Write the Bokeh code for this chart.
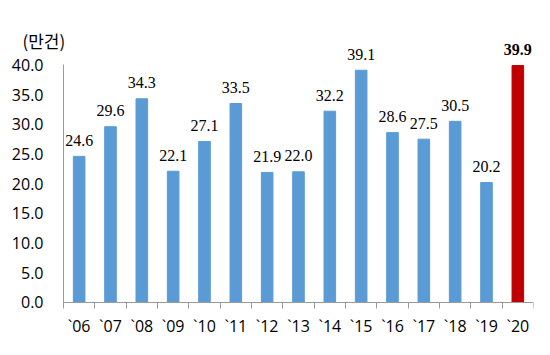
import numpy as np
from bokeh.plotting import figure
from bokeh.models import (ColumnDataSource, Range1d, FixedTicker, LinearAxis,
                          NumeralTickFormatter, Label)
from bokeh.embed import file_html
from bokeh.resources import INLINE

years = ["`06", "`07", "`08", "`09", "`10", "`11", "`12", "`13", "`14",
         "`15", "`16", "`17", "`18", "`19", "`20"]
values = [24.6, 29.6, 34.3, 22.1, 27.1, 33.5, 21.9, 22.0, 32.2,
          39.1, 28.6, 27.5, 30.5, 20.2, 39.9]
y_ticks = [0, 5, 10, 15, 20, 25, 30, 35, 40]
unit_label = "(만건)"

FONT = "Open Sans"
KFONT = "Noto Sans CJK KR"
BLUE = "#5B9BD5"
RED = "#C00000"
AXIS = "#9A9A9A"

n = len(years)
xs = np.arange(n) + 0.5
colors = [BLUE] * (n - 1) + [RED]
styles = ["normal"] * (n - 1) + ["bold"]
texts = [f"{v:.1f}" for v in values]

src = ColumnDataSource(dict(x=xs, top=values, color=colors, style=styles, label=texts))

# frame spans 10..533 px horizontally and 29..345 px vertically;
# both axes are pinned at 0 so their labels sit inside the frame
x_start = -1.691
p = figure(width=550, height=355, output_backend="svg", toolbar_location=None,
           x_range=Range1d(x_start, n), y_range=Range1d(-7.24, 45.96),
           x_axis_type=None, y_axis_type=None,
           min_border_left=10, min_border_right=17,
           min_border_top=29, min_border_bottom=10)
p.outline_line_color = None
p.background_fill_color = "white"
p.border_fill_color = "white"
p.xgrid.visible = False
p.ygrid.visible = False

p.vbar(x="x", top="top", width=0.37, bottom=0, color="color", source=src)

p.text(x="x", y="top", text="label", source=src, text_align="center",
       text_baseline="middle", y_offset=-16, text_font=FONT,
       text_font_size="16px", text_font_style="style", text_color="black")

xaxis = LinearAxis(ticker=FixedTicker(ticks=list(xs), minor_ticks=list(range(n + 1))),
                   bounds=(0, n), fixed_location=0)
xaxis.major_label_overrides = {float(x): y for x, y in zip(xs, years)}
xaxis.major_tick_line_color = None
xaxis.major_tick_out = 0
xaxis.major_tick_in = 0
xaxis.minor_tick_line_color = AXIS
xaxis.minor_tick_out = 6
xaxis.minor_tick_in = 0
xaxis.major_label_standoff = 7
xaxis.axis_line_color = AXIS
xaxis.major_label_text_font = FONT
xaxis.major_label_text_font_size = "16px"
xaxis.major_label_text_color = "black"
p.add_layout(xaxis, "below")

yaxis = LinearAxis(ticker=FixedTicker(ticks=y_ticks), bounds=(0, 40), fixed_location=0)
yaxis.formatter = NumeralTickFormatter(format="0.0")
yaxis.major_tick_line_color = None
yaxis.minor_tick_line_color = None
yaxis.major_tick_out = 0
yaxis.major_tick_in = 0
yaxis.major_label_standoff = 20
yaxis.axis_line_color = AXIS
yaxis.major_label_text_font = FONT
yaxis.major_label_text_font_size = "16px"
yaxis.major_label_text_color = "black"
p.add_layout(yaxis, "left")

title = Label(x=-1.31, y=44.1, text=unit_label, text_align="left",
              text_baseline="middle", text_font=KFONT, text_font_size="17px",
              text_color="black")
p.add_layout(title)

open("out.html", "w").write(file_html(p, INLINE))
